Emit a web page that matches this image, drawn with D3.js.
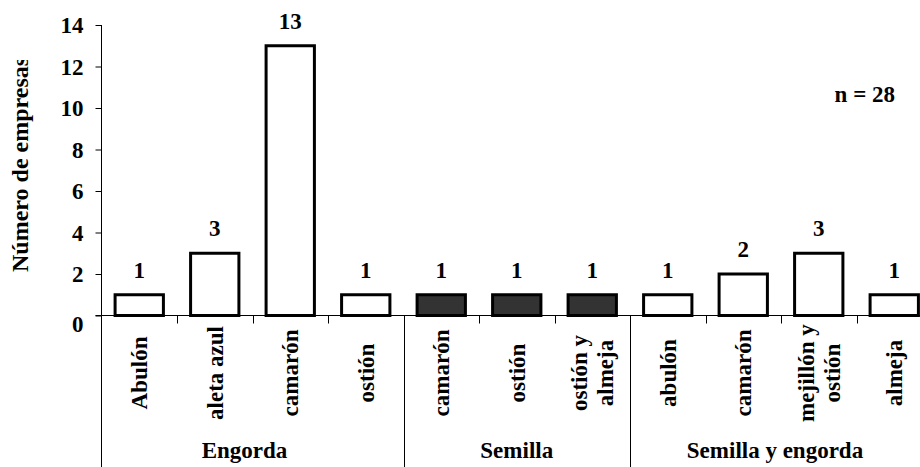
<!DOCTYPE html>
<html>
<head>
<meta charset="utf-8">
<script src="https://cdn.jsdelivr.net/npm/d3@7"></script>
<style>
  html, body { margin: 0; padding: 0; background: #fff; }
  svg { display: block; }
</style>
</head>
<body>
<svg id="chart" width="920" height="467"></svg>
<script>
// ---- data ----
const groups = ["Engorda", "Semilla", "Semilla y engorda"];
const categories = ["Abulón", "aleta azul", "camarón", "ostión",
                    "camarón", "ostión", "ostión y|almeja",
                    "abulón", "camarón", "mejillón y|ostión", "almeja"];
const categoryGroup = ["Engorda", "Engorda", "Engorda", "Engorda",
                       "Semilla", "Semilla", "Semilla",
                       "Semilla y engorda", "Semilla y engorda", "Semilla y engorda", "Semilla y engorda"];
const values = [1, 3, 13, 1, 1, 1, 1, 1, 2, 3, 1];
const yTicks = [0, 2, 4, 6, 8, 10, 12, 14];
const yTitle = "Número de empresas";
const nLabel = "n = 28";

// ---- layout ----
const FONT = "Liberation Serif";
const svg = d3.select("#chart");
const x0 = 101.5, x1 = 932, yBase = 315.5, yTop = 25;
const keys = categories.map((c, i) => i);
const x = d3.scaleBand().domain(keys).range([x0, x1]).paddingInner(0.36).paddingOuter(0.18);
const y = d3.scaleLinear().domain([0, 14]).range([yBase, yTop]);
const step = x.step();
const groupColor = { "Engorda": "#ffffff", "Semilla": "#333333", "Semilla y engorda": "#ffffff" };

function styleText(sel, size) {
  return sel.attr("fill", "#000")
    .style("font-family", FONT).style("font-weight", "bold").style("font-size", size + "px");
}

// y axis
const yAxis = d3.axisLeft(y).tickValues(yTicks).tickSize(6).tickPadding(12);
const gy = svg.append("g").attr("transform", `translate(${x0},0)`).call(yAxis);
gy.select(".domain").remove();
gy.attr("font-family", null).attr("font-size", null);
gy.selectAll(".tick line").attr("stroke", "#000");
styleText(gy.selectAll(".tick text"), 23)
  .attr("dy", d => d === 0 ? "0.7em" : "0.34em");

// axis lines
svg.append("line").attr("x1", x0).attr("x2", x0).attr("y1", yTop).attr("y2", 467).attr("stroke", "#000");
svg.append("line").attr("x1", x0 - 6).attr("x2", 920).attr("y1", yBase).attr("y2", yBase).attr("stroke", "#000");

// category separators
keys.forEach((k, i) => {
  if (i === 0) return;
  const bx = Math.round(x0 + i * step) + 0.5;
  const isGroupEdge = categoryGroup[i] !== categoryGroup[i - 1];
  svg.append("line").attr("x1", bx).attr("x2", bx)
    .attr("y1", yBase).attr("y2", isGroupEdge ? 467 : yBase + 8)
    .attr("stroke", "#000");
});

// bars
svg.append("g").selectAll("rect").data(keys).join("rect")
  .attr("x", d => x(d))
  .attr("width", x.bandwidth())
  .attr("y", d => y(values[d]))
  .attr("height", d => y(0) - y(values[d]))
  .attr("fill", d => groupColor[categoryGroup[d]])
  .attr("stroke", "#000")
  .attr("stroke-width", 3);

// value labels
styleText(svg.append("g").selectAll("text").data(keys).join("text"), 23)
  .attr("x", d => x(d) + x.bandwidth() / 2)
  .attr("y", d => y(values[d]) - 17)
  .attr("text-anchor", "middle")
  .text(d => values[d]);

// category labels (rotated)
keys.forEach(i => {
  const lines = categories[i].split("|");
  const cx = x0 + (i + 0.5) * step;
  const lh = 26;
  const t = styleText(svg.append("text"), 23)
    .attr("transform", `translate(${cx},373) rotate(-90)`)
    .attr("text-anchor", "middle");
  lines.forEach((ln, j) => {
    t.append("tspan")
      .attr("x", 0)
      .attr("y", (j - (lines.length - 1) / 2) * lh)
      .attr("dy", "0.35em")
      .text(ln);
  });
});

// group labels
groups.forEach(g => {
  const idx = keys.filter(i => categoryGroup[i] === g);
  const gx0 = x0 + idx[0] * step;
  const gx1 = Math.min(920, x0 + (idx[idx.length - 1] + 1) * step);
  styleText(svg.append("text"), 23)
    .attr("x", (gx0 + gx1) / 2 - (g === "Engorda" ? 8 : 0))
    .attr("y", 458)
    .attr("text-anchor", "middle")
    .text(g);
});

// y title (clipped at the top like the original)
svg.append("clipPath").attr("id", "titleClip")
  .append("rect").attr("x", 0).attr("y", 60).attr("width", 60).attr("height", 300);
const tg = svg.append("g").attr("clip-path", "url(#titleClip)");
styleText(tg.append("text"), 24)
  .attr("transform", "translate(28,272) rotate(-90)")
  .attr("text-anchor", "start")
  .text(yTitle);

// n label
styleText(svg.append("text"), 23)
  .attr("x", 895).attr("y", 102)
  .attr("text-anchor", "end")
  .text(nLabel);
</script>
</body>
</html>
